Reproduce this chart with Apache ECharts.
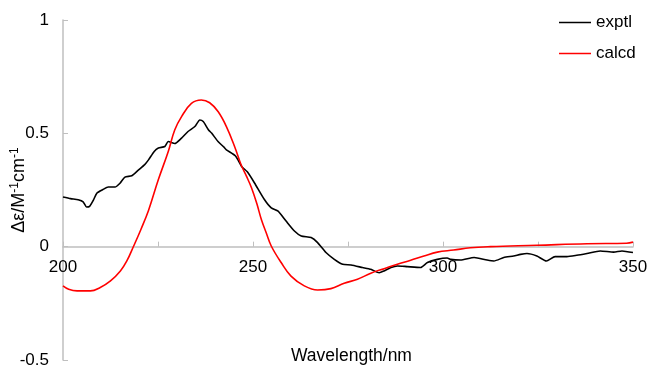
<!DOCTYPE html>
<html>
<head>
<meta charset="utf-8">
<script src="https://cdn.jsdelivr.net/npm/echarts@6/dist/echarts.min.js"></script>
<style>
  html, body { margin: 0; padding: 0; background: #fff; }
  #chart { width: 649px; height: 366px; }
</style>
</head>
<body>
<div id="chart"></div>
<script>
// wavelength (nm) / delta epsilon pairs
const exptlX = [200, 202, 204, 205.3, 206.2, 207, 208, 208.9, 210.5, 211.9, 213.7, 215, 216.3, 218.1, 219.9,
  221.5, 222.5, 224, 225.1, 226.8, 227.7, 229.4, 231.2, 232.9, 234.7, 236, 236.9, 238.3, 239.1, 240.8,
  242.3, 243, 245.4, 247, 248.5, 250.4, 253, 254.8, 256.6, 258.7, 260.9, 262.7, 265.3, 267, 269.2,
  271.4, 273.6, 275.8, 278.8, 281, 283.2, 284.5, 286.3, 288, 290.6, 294.1, 295.9, 298.5, 301.1, 302,
  304.6, 308.2, 311.6, 313.4, 316, 318.6, 320.4, 322.1, 324.7, 327.2, 329.5, 332.6, 335.2, 337.9,
  341.4, 344.9, 347.1, 350];
const exptlY = [0.219, 0.212, 0.207, 0.198, 0.175, 0.178, 0.205, 0.236, 0.252, 0.263, 0.263, 0.28, 0.307, 0.313, 0.339,
  0.362, 0.383, 0.42, 0.435, 0.442, 0.464, 0.455, 0.479, 0.508, 0.53, 0.559, 0.552, 0.515, 0.501, 0.464,
  0.44, 0.427, 0.4, 0.354, 0.33, 0.281, 0.208, 0.171, 0.157, 0.113, 0.069, 0.047, 0.04, 0.018, -0.026,
  -0.056, -0.078, -0.081, -0.092, -0.1, -0.115, -0.107, -0.092, -0.085, -0.088, -0.092, -0.07, -0.056, -0.05, -0.056,
  -0.059, -0.048, -0.059, -0.063, -0.048, -0.041, -0.034, -0.03, -0.041, -0.063, -0.044, -0.044, -0.038, -0.03,
  -0.019, -0.024, -0.019, -0.026];

const calcdX = [200, 201.5, 203.7, 207.2, 209.8, 212.5, 215.1, 216.8, 218.6, 220.5, 222.5, 225.1, 227.7, 229.4,
  231.2, 233.8, 236.4, 238.6, 240.8, 243, 245.2, 246.9, 248.3, 249.6, 251, 252.2, 253.5, 254.8, 257.4,
  260, 263.5, 267, 270.5, 274, 277.5, 281, 284.5, 288, 291.5, 295, 298.5, 302.8, 307.2, 312.5, 324.7,
  337.9, 348.3, 350];
const calcdY = [-0.173, -0.188, -0.195, -0.195, -0.18, -0.151, -0.107, -0.063, 0.003, 0.076, 0.16, 0.296, 0.42, 0.515,
  0.574, 0.632, 0.647, 0.635, 0.596, 0.53, 0.44, 0.36, 0.31, 0.26, 0.19, 0.12, 0.06, 0.003, -0.07,
  -0.13, -0.173, -0.191, -0.185, -0.161, -0.144, -0.117, -0.097, -0.078, -0.06, -0.041, -0.024, -0.015, -0.005, 0, 0.006,
  0.013, 0.015, 0.02];

const seriesNames = ['exptl', 'calcd'];
const xTicks = [200, 250, 300, 350];

const font = 'Liberation Sans, Arial, sans-serif';
const axisGray = '#bfbfbf';

const gridTop = 20, gridBottom = 6, yMin = -0.5, yMax = 1;
// lift the x axis up to the y = 0 line
const zeroOffset = -(366 - gridTop - gridBottom) * (0 - yMin) / (yMax - yMin);

const chart = echarts.init(document.getElementById('chart'));

chart.setOption({
  animation: false,
  backgroundColor: '#fff',
  textStyle: { fontFamily: font },
  grid: { left: 63, right: 16, top: gridTop, bottom: gridBottom, outerBoundsMode: 'none', containLabel: false },
  title: {
    text: 'Wavelength/nm',
    left: 291,
    top: 347,
    padding: 0,
    textStyle: { fontFamily: font, fontSize: 17.5, fontWeight: 'normal', color: '#000' }
  },
  legend: {
    orient: 'vertical',
    left: 559,
    top: 14,
    padding: 0,
    icon: 'rect',
    itemWidth: 32,
    itemHeight: 1.5,
    itemGap: 14,
    textStyle: { fontFamily: font, fontSize: 17, color: '#000' },
    data: seriesNames
  },
  xAxis: {
    type: 'value',
    min: 200,
    max: 350,
    interval: 25,
    offset: zeroOffset,
    axisLine: { onZero: false, lineStyle: { color: axisGray, width: 1.5 } },
    axisTick: { inside: true, length: 5, lineStyle: { color: axisGray } },
    splitLine: { show: false },
    axisLabel: {
      margin: 12,
      fontSize: 17,
      color: '#000',
      hideOverlap: false,
      formatter: v => (xTicks.includes(v) ? String(v) : '')
    }
  },
  yAxis: {
    type: 'value',
    min: yMin,
    max: yMax,
    interval: 0.5,
    name: 'Δε/M{sup|-1}cm{sup|-1}',
    nameLocation: 'middle',
    nameRotate: 90,
    nameGap: 33,
    nameMoveOverlap: false,
    nameTextStyle: {
      fontFamily: font,
      fontSize: 18,
      color: '#000',
      rich: {
        sup: { fontSize: 12, verticalAlign: 'top', padding: [0, 0, 9, 0], fontFamily: font, color: '#000' }
      }
    },
    axisLine: { show: true, lineStyle: { color: axisGray, width: 1.5 } },
    axisTick: { show: true, inside: true, length: 5, lineStyle: { color: axisGray } },
    splitLine: { show: false },
    axisLabel: {
      margin: 14,
      fontSize: 17,
      color: '#000',
      formatter: v => String(v)
    }
  },
  series: [
    {
      name: seriesNames[0],
      type: 'line',
      symbol: 'none',
      smooth: 0.2,
      color: '#000',
      lineStyle: { color: '#000', width: 1.6 },
      data: exptlX.map((x, i) => [x, exptlY[i]])
    },
    {
      name: seriesNames[1],
      type: 'line',
      symbol: 'none',
      smooth: 0.4,
      color: '#ff0000',
      lineStyle: { color: '#ff0000', width: 1.6 },
      data: calcdX.map((x, i) => [x, calcdY[i]])
    }
  ]
});
</script>
</body>
</html>
